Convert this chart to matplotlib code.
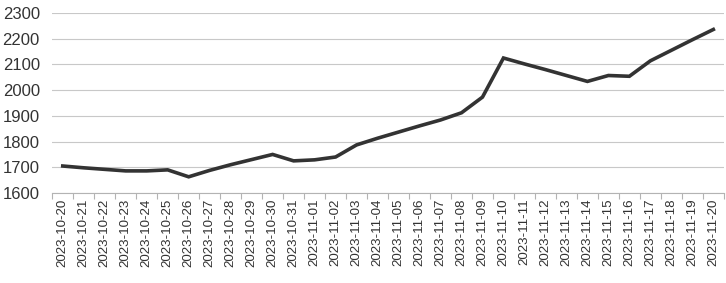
import matplotlib
matplotlib.use("Agg")
import matplotlib.pyplot as plt
import numpy as np

dates = ["2023-10-20", "2023-10-21", "2023-10-22", "2023-10-23", "2023-10-24",
         "2023-10-25", "2023-10-26", "2023-10-27", "2023-10-28", "2023-10-29",
         "2023-10-30", "2023-10-31", "2023-11-01", "2023-11-02", "2023-11-03",
         "2023-11-04", "2023-11-05", "2023-11-06", "2023-11-07", "2023-11-08",
         "2023-11-09", "2023-11-10", "2023-11-11", "2023-11-12", "2023-11-13",
         "2023-11-14", "2023-11-15", "2023-11-16", "2023-11-17", "2023-11-18",
         "2023-11-19", "2023-11-20"]
values = [1705, 1698, 1692, 1686, 1686, 1690, 1663, 1688, 1710, 1730,
          1750, 1725, 1729, 1740, 1787, 1813, 1837, 1861, 1884, 1912,
          1973, 2125, 2102, 2080, 2057, 2034, 2057, 2054, 2114, 2155,
          2196, 2236]
y_ticks = [1600, 1700, 1800, 1900, 2000, 2100, 2200, 2300]

plt.rcParams['font.family'] = ['Liberation Sans', 'DejaVu Sans']

fig = plt.figure(figsize=(7.26, 2.83), dpi=100)
ax = fig.add_axes([0.072, 0.318, 0.925, 0.636])

x = np.arange(len(dates))
ax.plot(x, values, color='#333333', linewidth=2.6, solid_joinstyle='miter')

ax.set_xlim(-0.5, len(dates) - 0.5)
ax.set_ylim(1600, 2300)
ax.set_yticks(y_ticks)
ax.set_xticks(x)
ax.set_xticklabels(dates, rotation=90, fontsize=9.6, color='#333333')
ax.set_xticks(np.arange(len(dates) + 1) - 0.5, minor=True)
ax.tick_params(axis='x', which='major', length=0, pad=4)
ax.tick_params(axis='x', which='minor', length=4, color='#b3b3b3', width=0.8)
ax.tick_params(axis='y', length=0, labelsize=12, labelcolor='#333333', pad=9)

ax.grid(axis='y', color='#c8c8c8', linewidth=0.8)
ax.set_axisbelow(True)
for side in ['left', 'right', 'top']:
    ax.spines[side].set_visible(False)
ax.spines['bottom'].set_color('#b3b3b3')
ax.spines['bottom'].set_linewidth(0.8)

fig.savefig("out.png", dpi=100)
